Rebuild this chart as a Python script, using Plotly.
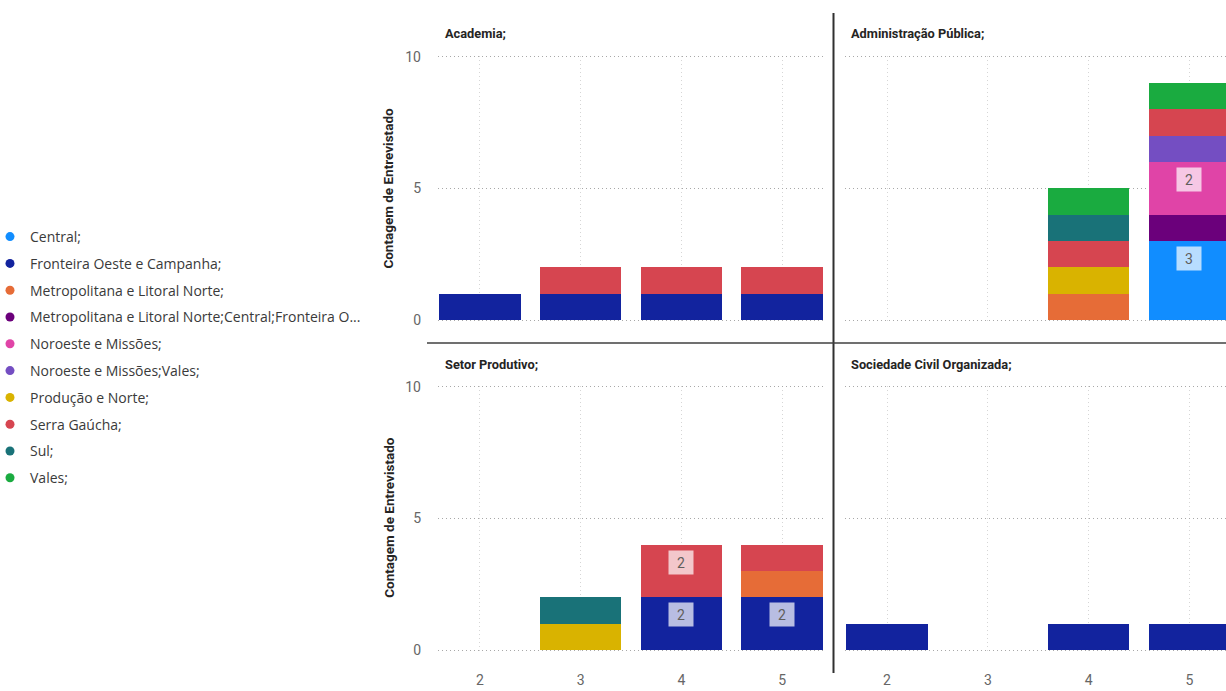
import plotly.graph_objects as go
from plotly.subplots import make_subplots

W, H = 1226, 691

# ---------------- data ----------------
X_CATS = [2, 3, 4, 5]

SERIES = [
    "Central;",
    "Fronteira Oeste e Campanha;",
    "Metropolitana e Litoral Norte;",
    "Metropolitana e Litoral Norte;Central;Fronteira O...",
    "Noroeste e Missões;",
    "Noroeste e Missões;Vales;",
    "Produção e Norte;",
    "Serra Gaúcha;",
    "Sul;",
    "Vales;",
]
COLORS = [
    "#118DFF", "#12239E", "#E66C37", "#6B007B", "#E044A7",
    "#744EC2", "#D9B300", "#D64550", "#197278", "#1AAB40",
]

PANELS = ["Academia;", "Administração Pública;", "Setor Produtivo;", "Sociedade Civil Organizada;"]

# values per series at X_CATS = [2, 3, 4, 5]
academia = {
    "Fronteira Oeste e Campanha;": [1, 1, 1, 1],
    "Serra Gaúcha;": [0, 1, 1, 1],
}
administracao = {
    "Central;": [0, 0, 0, 3],
    "Metropolitana e Litoral Norte;": [0, 0, 1, 0],
    "Metropolitana e Litoral Norte;Central;Fronteira O...": [0, 0, 0, 1],
    "Noroeste e Missões;": [0, 0, 0, 2],
    "Noroeste e Missões;Vales;": [0, 0, 0, 1],
    "Produção e Norte;": [0, 0, 1, 0],
    "Serra Gaúcha;": [0, 0, 1, 1],
    "Sul;": [0, 0, 1, 0],
    "Vales;": [0, 0, 1, 1],
}
setor_produtivo = {
    "Fronteira Oeste e Campanha;": [0, 0, 2, 2],
    "Metropolitana e Litoral Norte;": [0, 0, 0, 1],
    "Produção e Norte;": [0, 1, 0, 0],
    "Serra Gaúcha;": [0, 0, 2, 1],
    "Sul;": [0, 1, 0, 0],
}
sociedade_civil = {
    "Fronteira Oeste e Campanha;": [1, 0, 1, 1],
}
PANEL_DATA = [academia, administracao, setor_produtivo, sociedade_civil]

Y_TICKS = [0, 5, 10]
Y_TITLE = "Contagem de Entrevistado"

# ---------------- layout geometry (pixels -> paper) ----------------
def px_x(X):
    return X / W

def px_y(Y):
    return 1 - Y / H

COL_DOM = [(438, 823), (845, 1226)]
ROW_DOM = [(55.6, 321.1), (385.6, 651.1)]  # top, bottom in px
X_RANGES = [[1.585, 5.405], [1.583, 5.363]]
Y_RANGE = [-0.04, 10.04]

fig = make_subplots(rows=2, cols=2)

POS = [(1, 1), (1, 2), (2, 1), (2, 2)]
axis_ids = ["", "2", "3", "4"]

TICK_FONT = dict(family="Roboto, sans-serif", size=14, color="#666666")
TITLE_FONT = dict(family="Roboto, sans-serif", size=13.5, color="#252423")

# legend proxies first (circle markers), so legend groups follow SERIES order
for s, col in zip(SERIES, COLORS):
    fig.add_trace(go.Scatter(
        x=[None], y=[None], mode="markers", name=s, legendgroup=s,
        marker=dict(color=col, size=9, symbol="circle"), showlegend=True,
        hoverinfo="skip",
    ), row=1, col=1)

annotations = []
for p, (panel, data) in enumerate(zip(PANELS, PANEL_DATA)):
    r, c = POS[p]
    cum = [0] * len(X_CATS)
    for s, col in zip(SERIES, COLORS):
        if s not in data:
            continue
        vals = data[s]
        fig.add_trace(
            go.Bar(
                x=X_CATS, y=vals, name=s, marker=dict(color=col, line=dict(width=0)),
                width=0.81, showlegend=False, legendgroup=s,
                hovertemplate=s + " %{x}: %{y}<extra></extra>",
            ),
            row=r, col=c,
        )
        for i, v in enumerate(vals):
            top = cum[i] + v
            if v >= 2:
                ax = axis_ids[p]
                annotations.append(dict(
                    x=X_CATS[i], y=top, xref="x" + ax, yref="y" + ax,
                    text=str(v), showarrow=False, yanchor="top", xanchor="center",
                    yshift=-5, width=18, height=17, borderpad=3,
                    bgcolor="rgba(255,255,255,0.7)",
                    font=dict(family="Roboto, sans-serif", size=14, color="#605E5C"),
                ))
            cum[i] = top

    # panel title
    tx = 443 if c == 1 else 849.5
    ty = 34 if r == 1 else 364
    annotations.append(dict(
        x=px_x(tx), y=px_y(ty), xref="paper", yref="paper", text="<b>" + panel + "</b>",
        showarrow=False, xanchor="left", yanchor="middle",
        font=dict(family="Roboto, sans-serif", size=12.8, color="#252423"),
    ))

# y-axis titles (left column)
for yc in (188.3, 517.5):
    annotations.append(dict(
        x=px_x(388.3), y=px_y(yc), xref="paper", yref="paper", text="<b>" + Y_TITLE + "</b>",
        showarrow=False, textangle=-90, xanchor="center", yanchor="middle",
        font=TITLE_FONT,
    ))

# axes
for p in range(4):
    r, c = POS[p]
    ax = axis_ids[p]
    xd = COL_DOM[c - 1]
    yd = ROW_DOM[r - 1]
    fig.layout["xaxis" + ax].update(
        domain=[px_x(xd[0]), min(1.0, px_x(xd[1]))], range=X_RANGES[c - 1],
        tickvals=X_CATS, ticktext=[str(v) for v in X_CATS],
        showticklabels=(r == 2), tickfont=TICK_FONT, ticks="",
        ticklabelstandoff=19, automargin=False,
        showgrid=True, gridcolor="#D6D6D6", griddash="1px,3px", gridwidth=1,
        zeroline=False, showline=False, fixedrange=True,
    )
    fig.layout["yaxis" + ax].update(
        domain=[px_y(yd[1]), px_y(yd[0])], range=Y_RANGE,
        tickvals=Y_TICKS, ticktext=[str(v) for v in Y_TICKS],
        showticklabels=(c == 1), tickfont=TICK_FONT, ticks="",
        ticklabelstandoff=16, automargin=False,
        showgrid=True, gridcolor="#A8A8A8", griddash="1px,3px", gridwidth=1.3,
        zeroline=False, showline=False, fixedrange=True,
    )

shapes = [
    dict(type="line", xref="paper", yref="paper",
         x0=px_x(833.5), x1=px_x(833.5), y0=px_y(13), y1=px_y(673),
         line=dict(color="#303030", width=2)),
    dict(type="line", xref="paper", yref="paper",
         x0=px_x(427), x1=1.0, y0=px_y(343), y1=px_y(343),
         line=dict(color="#404040", width=1.6)),
]

fig.update_layout(
    width=W, height=H,
    margin=dict(l=0, r=0, t=0, b=0, autoexpand=False),
    barmode="stack", bargap=0.19,
    plot_bgcolor="white", paper_bgcolor="white",
    annotations=annotations, shapes=shapes,
    showlegend=True,
    legend=dict(
        x=-10 / W, y=1 - 221 / H, xanchor="left", yanchor="top",
        orientation="v", traceorder="grouped", tracegroupgap=5.6,
        itemsizing="trace", bgcolor="rgba(0,0,0,0)", borderwidth=0,
        font=dict(family="Open Sans, sans-serif", size=14, color="#3A3A3A"),
    ),
    hovermode="closest",
)

fig.write_html("out.html")
